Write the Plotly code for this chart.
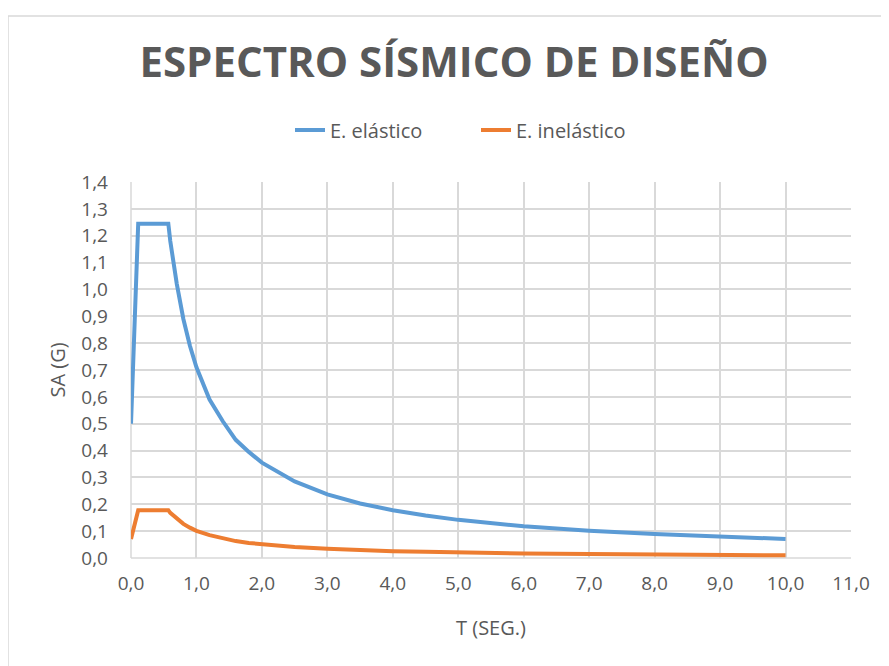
import plotly.graph_objects as go

T = [0.0, 0.11, 0.2, 0.3, 0.4, 0.5, 0.57, 0.6, 0.7, 0.8, 0.9, 1.0, 1.2, 1.4, 1.6, 1.8,
     2.0, 2.5, 3.0, 3.5, 4.0, 4.5, 5.0, 6.0, 7.0, 8.0, 9.0, 10.0]
sa_elastico = [0.50, 1.245, 1.245, 1.245, 1.245, 1.245, 1.245, 1.18, 1.02, 0.89, 0.79, 0.71,
               0.59, 0.51, 0.44, 0.395, 0.355, 0.285, 0.237, 0.203, 0.178, 0.158, 0.142,
               0.118, 0.101, 0.089, 0.079, 0.071]
sa_inelastico = [0.071, 0.178, 0.178, 0.178, 0.178, 0.178, 0.178, 0.168, 0.146, 0.127, 0.113,
                 0.101, 0.085, 0.073, 0.063, 0.056, 0.051, 0.041, 0.034, 0.029, 0.025, 0.023,
                 0.020, 0.017, 0.0145, 0.0127, 0.0113, 0.0101]

FONT = "Open Sans"
GRAY = "#595959"
GRID = "#D9D9D9"

fig = go.Figure()
fig.add_trace(go.Scatter(x=T, y=sa_elastico, mode="lines", name="E. elástico",
                         line=dict(color="#5B9BD5", width=4)))
fig.add_trace(go.Scatter(x=T, y=sa_inelastico, mode="lines", name="E. inelástico",
                         line=dict(color="#ED7D31", width=4)))

# page body has an 8px margin: figure starts at page (8, 8)
OFF = 8
W, H = 889 - OFF, 666 - OFF
PL, PR, PT, PB = 131, 851, 182, 558          # plot area in page pixels
L, Tm = PL - OFF, PT - OFF
R, B = (W + OFF) - PR, (H + OFF) - PB
pw, ph = PR - PL, PB - PT

fig.update_layout(
    width=W, height=H,
    margin=dict(l=L, r=R, t=Tm, b=B, autoexpand=False),
    paper_bgcolor="white", plot_bgcolor="white",
    separators=",.",
    font=dict(family=FONT, color=GRAY, size=17),
    title=dict(text="<b>ESPECTRO SÍSMICO DE DISEÑO</b>", x=(454 - OFF) / W, xanchor="center",
               xref="container", y=1 - (62 - OFF) / H, yanchor="middle", yref="container",
               font=dict(family=FONT, size=42, color=GRAY)),
    legend=dict(orientation="h", x=(290 - PL) / pw, xanchor="left", xref="paper",
                y=(PB - 130) / ph, yanchor="middle", yref="paper",
                entrywidth=141, entrywidthmode="pixels",
                font=dict(size=20, color=GRAY), bgcolor="rgba(0,0,0,0)"),
    xaxis=dict(range=[0, 11], dtick=1, tick0=0, tickformat=".1f", showgrid=True,
               gridcolor=GRID, gridwidth=1.5, zeroline=False, showline=False,
               ticks="", tickangle=0, ticklabelstandoff=12, tickfont=dict(size=19, color=GRAY),
               title=dict(text="T (SEG.)", font=dict(size=20, color=GRAY), standoff=25)),
    yaxis=dict(range=[0, 1.4], dtick=0.1, tick0=0, tickformat=".1f", showgrid=True,
               gridcolor=GRID, gridwidth=1.5, zeroline=False, showline=False,
               ticks="", ticklabelstandoff=22, tickfont=dict(size=19, color=GRAY),
               title=dict(text="SA (G)", font=dict(size=20, color=GRAY), standoff=10)),
    shapes=[
        dict(type="rect", xref="paper", yref="paper",
             x0=(8 - PL) / pw, x1=(889 + 20 - PL) / pw,
             y0=(PB - 690) / ph, y1=(PB - 16) / ph,
             line=dict(color=GRID, width=1.5), fillcolor="rgba(0,0,0,0)", layer="below"),
        dict(type="line", xref="paper", yref="paper", x0=0, x1=1, y0=0, y1=0,
             line=dict(color=GRID, width=1.5), layer="below"),
        dict(type="line", xref="paper", yref="paper", x0=0, x1=0, y0=0, y1=1,
             line=dict(color=GRID, width=1.5), layer="below"),
    ],
)

fig.write_html("out.html")
